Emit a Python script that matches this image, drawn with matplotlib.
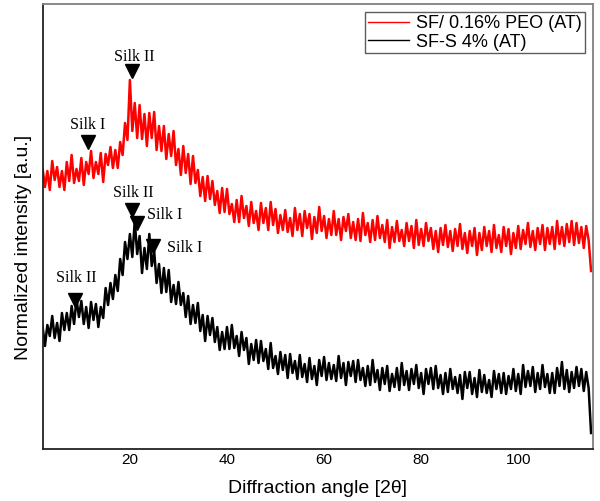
import matplotlib.pyplot as plt
import numpy as np

# XRD patterns, sampled every 0.5 deg from 2 to 115 (2theta)
two_theta = np.arange(2.0, 115.01, 0.5)

# SF/ 0.16% PEO (AT), offset upwards (a.u.)
peo_int = [
    281, 262, 278, 259, 288, 269, 282, 262, 278, 259,
    287, 268, 294, 266, 280, 268, 291, 264, 287, 275,
    298, 271, 287, 275, 296, 267, 295, 284, 302, 281,
    299, 281, 307, 294, 326, 309, 369, 318, 346, 311,
    344, 310, 335, 303, 336, 311, 337, 299, 323, 298,
    323, 290, 315, 293, 318, 284, 300, 274, 303, 276,
    295, 265, 293, 266, 279, 253, 272, 248, 273, 250,
    268, 244, 258, 236, 261, 237, 260, 235, 245, 227,
    249, 227, 253, 231, 243, 223, 247, 226, 238, 219,
    246, 226, 241, 219, 247, 224, 240, 216, 234, 219,
    239, 217, 231, 213, 241, 219, 235, 213, 238, 221,
    235, 210, 232, 216, 242, 218, 233, 211, 230, 214,
    238, 214, 230, 209, 232, 218, 235, 211, 227, 209,
    230, 208, 236, 214, 226, 207, 229, 209, 233, 211,
    224, 207, 229, 201, 222, 207, 228, 208, 219, 203,
    226, 208, 223, 201, 229, 204, 220, 203, 226, 208,
    221, 200, 218, 197, 221, 204, 224, 202, 218, 198,
    220, 203, 225, 200, 216, 196, 218, 203, 221, 194,
    216, 199, 222, 203, 218, 197, 224, 201, 214, 197,
    222, 203, 220, 195, 216, 201, 223, 200, 219, 205,
    226, 202, 218, 199, 221, 205, 224, 199, 221, 205,
    222, 200, 228, 205, 222, 203, 225, 207, 228, 204,
    226, 206, 222, 201, 223, 209,
    178,
]

# SF-S 4% (AT)
sfs_int = [
    123, 103, 124, 113, 133, 111, 126, 108, 136, 119,
    136, 119, 143, 125, 150, 132, 148, 125, 142, 121,
    147, 129, 145, 122, 142, 131, 161, 144, 166, 150,
    174, 158, 190, 174, 207, 190, 215, 192, 228, 195,
    213, 176, 201, 180, 215, 183, 198, 166, 185, 156,
    181, 157, 179, 147, 164, 145, 167, 144, 156, 132,
    153, 125, 144, 126, 146, 118, 134, 108, 133, 114,
    131, 107, 122, 99, 117, 100, 122, 100, 124, 101,
    113, 93, 117, 99, 111, 85, 105, 89, 109, 86,
    108, 88, 100, 80, 106, 81, 93, 75, 97, 79,
    94, 71, 95, 76, 88, 70, 94, 72, 85, 67,
    91, 70, 83, 64, 89, 73, 92, 69, 86, 70,
    84, 68, 93, 71, 86, 64, 87, 73, 88, 67,
    89, 69, 81, 63, 83, 64, 89, 67, 79, 59,
    81, 65, 83, 58, 75, 62, 81, 59, 86, 64,
    78, 59, 80, 65, 84, 61, 76, 55, 80, 65,
    81, 60, 83, 61, 74, 55, 76, 57, 80, 60,
    72, 56, 74, 50, 77, 61, 77, 55, 71, 52,
    79, 57, 74, 56, 69, 52, 78, 60, 75, 56,
    76, 55, 73, 60, 80, 58, 75, 55, 84, 62,
    78, 63, 82, 57, 76, 60, 84, 62, 75, 56,
    76, 56, 81, 63, 87, 60, 79, 57, 77, 61,
    82, 63, 80, 58, 77, 61,
    16,
]

# peak assignments: (label, 2theta, marker height)
peak_labels = ["Silk II", "Silk I", "Silk II", "Silk I", "Silk I", "Silk II"]
peak_pos = [20.4, 11.35, 20.4, 21.4, 24.7, 8.7]
peak_h = [378, 307, 239, 226, 203, 149]

# label placement relative to the marker: (dx, dy, ha)
label_off = [(0.5, 14, "center"), (-0.1, 17, "center"), (0.2, 17, "center"),
             (2.1, 8, "left"), (2.9, -2, "left"), (0.2, 22, "center")]

fig = plt.figure(figsize=(6, 5.01), dpi=100)
ax = fig.add_axes([43 / 600, 52 / 501, 550 / 600, 445 / 501])

ax.plot(two_theta, peo_int, color="#ff0000", lw=1.8, label="SF/ 0.16% PEO (AT)")
ax.plot(two_theta, sfs_int, color="black", lw=1.8, label="SF-S 4% (AT)")

ax.plot(peak_pos, peak_h, "v", color="black", ms=10, ls="none")
for lab, x, h, (dx, dy, ha) in zip(peak_labels, peak_pos, peak_h, label_off):
    ax.text(x + dx, h + dy, lab, ha=ha, va="center",
            fontsize=11.5, family="Liberation Serif")

ax.set_xlim(2.1, 115.4)
ax.set_ylim(0, 445)
ax.set_xticks([20, 40, 60, 80, 100])
ax.set_yticks([])
ax.tick_params(axis="x", length=0, pad=3, labelsize=11)
for t in ax.get_xticklabels():
    t.set_family("Liberation Sans")

ax.set_xlabel("Diffraction angle [2θ]", fontsize=14, family="Liberation Sans",
              labelpad=9)
ax.set_ylabel("Normalized intensity [a.u.]", fontsize=14, family="Liberation Sans")
ax.yaxis.set_label_coords(-0.02, 0.454)

for side in ("left", "bottom"):
    ax.spines[side].set_color("#222222")
    ax.spines[side].set_linewidth(1.3)
for side in ("top", "right"):
    ax.spines[side].set_color("#808080")
    ax.spines[side].set_linewidth(1.3)

leg = ax.legend(loc="upper right", frameon=True, fancybox=False,
                handlelength=2.3, handletextpad=0.4, labelspacing=0.1,
                borderpad=0.15, borderaxespad=0.45,
                prop={"family": "Liberation Sans", "size": 13})
leg.get_frame().set_edgecolor("#333333")
leg.get_frame().set_linewidth(1.0)
for line in leg.get_lines():
    line.set_linewidth(1.0)

fig.savefig("out.png", dpi=100)
